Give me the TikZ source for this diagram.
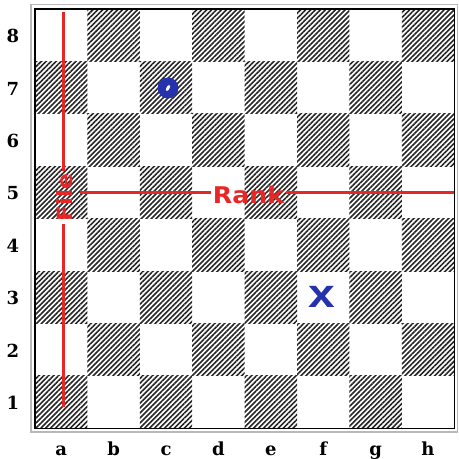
\documentclass[tikz,border=0pt]{standalone}
\usepackage{fontspec}
\newfontfamily\labsans{DejaVu Sans}
\newfontfamily\labserif{DejaVu Serif}
\newfontfamily\xsans{Liberation Sans}
\usetikzlibrary{patterns.meta}
\definecolor{redl}{RGB}{232,38,38}
\definecolor{bluep}{RGB}{38,50,172}
\tikzset{
  hatch/.style={pattern={Lines[angle=45,distance=3.5pt,line width=1.6pt]},pattern color=black!85},
  coordlab/.style={font=\labserif\bfseries\fontsize{18}{18}\selectfont,inner sep=0pt},
  redline/.style={draw=redl,line width=3pt},
  redtext/.style={text=redl,font=\labsans\bfseries\fontsize{23}{23}\selectfont,inner sep=2pt}
}
\begin{document}
\begin{tikzpicture}[x=1pt,y=-1pt]
\useasboundingbox (0,0) rectangle (459,459);
\def\s{52.4}
% squares
\foreach \f in {1,...,8}{\foreach \r in {1,...,8}{
  \pgfmathtruncatemacro{\parity}{mod(\f+\r,2)}
  \ifnum\parity=0
    \fill[hatch] ({35+(\f-1)*\s},{428.2-\r*\s}) rectangle +(\s,\s);
  \fi}}
% frames
\draw[gray!55,line width=1.2pt] (31,4.5) rectangle (457.5,432);
\draw[black,line width=1.4pt] (35,9) rectangle (454.2,428.2);
% labels
\foreach \r in {1,...,8}{
  \node[coordlab] (rk\r) at (13,{428.2-(\r-0.5)*\s+1}) {\r};}
\foreach \l [count=\i] in {a,b,c,d,e,f,g,h}{
  \node[coordlab,anchor=base] (fl\l) at ({35+(\i-0.5)*\s},455) {\l};}
% File line
\node[redtext,rotate=90,font=\labsans\bfseries\fontsize{21}{21}\selectfont] (file) at (64.5,197.5) {\scalebox{1.12}[1]{File}};
\coordinate (ftop) at (63,12);
\coordinate (fbot) at (63,407);
\draw[redline] (ftop) -- (ftop |- file.east);
\draw[redline] (fbot) -- (fbot |- file.west);
% Rank line
\node[redtext] (rank) at (248.5,194.5) {\scalebox{1.1}[1]{Rank}};
\coordinate (rleft) at (80,192);
\coordinate (rright) at (454.2,192);
\draw[redline] (rleft) -- (rleft -| rank.west);
\draw[redline] (rright) -- (rright -| rank.east);
% O marker
\node[circle,fill=bluep,minimum size=21pt,inner sep=0pt] (omark) at (168,88) {};
\fill[white,rotate around={60:(omark.center)}] (omark.center) ellipse (3.2pt and 1.6pt);
% X marker
\node[text=bluep,font=\xsans\bfseries\fontsize{40}{40}\selectfont,inner sep=0pt] (xmark) at (322,297) {\scalebox{1.2}[1]{x}};
\end{tikzpicture}
\end{document}
